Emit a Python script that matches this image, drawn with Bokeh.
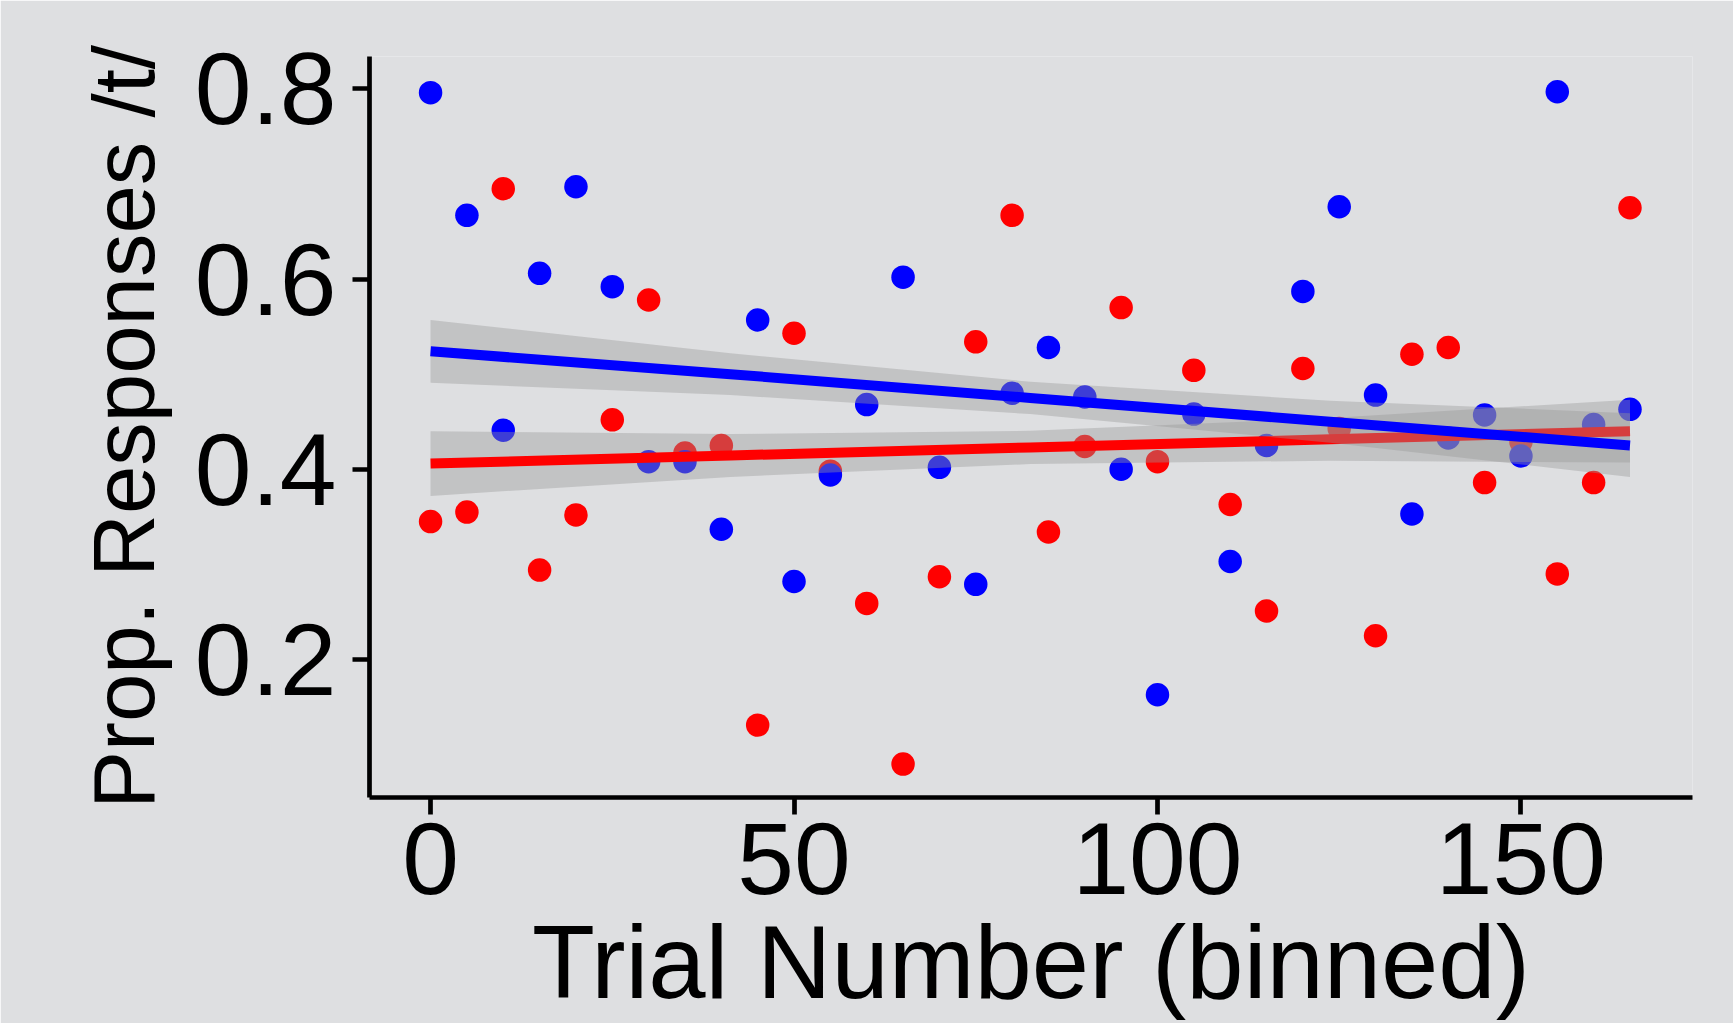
from bokeh.plotting import figure
from bokeh.models import Range1d, FixedTicker
from bokeh.embed import file_html
from bokeh.resources import INLINE

# ---- data ----
trial = [0, 5, 10, 15, 20, 25, 30, 35, 40, 45, 50, 55, 60, 65, 70, 75, 80,
         85, 90, 95, 100, 105, 110, 115, 120, 125, 130, 135, 140, 145, 150,
         155, 160, 165]
prop_blue = [0.796, 0.667, 0.441, 0.606, 0.697, 0.592, 0.408, 0.408, 0.337,
             0.557, 0.282, 0.394, 0.468, 0.602, 0.402, 0.279, 0.480, 0.528,
             0.476, 0.400, 0.163, 0.458, 0.303, 0.425, 0.587, 0.676, 0.478,
             0.353, 0.433, 0.457, 0.414, 0.797, 0.447, 0.463]
prop_red = [0.345, 0.355, 0.695, 0.294, 0.352, 0.452, 0.578, 0.417, 0.425,
            0.131, 0.543, 0.398, 0.259, 0.090, 0.287, 0.534, 0.667, 0.334,
            0.424, 0.570, 0.408, 0.504, 0.363, 0.251, 0.506, 0.443, 0.225,
            0.521, 0.528, 0.386, 0.429, 0.290, 0.386, 0.675]

# fitted lines with confidence bands (read at a few trial positions)
fit_x = [0, 41.25, 82.5, 123.75, 165]
blue_fit = [0.524, 0.500, 0.475, 0.450, 0.425]
blue_lo = [0.491, 0.478, 0.458, 0.428, 0.392]
blue_hi = [0.557, 0.522, 0.492, 0.472, 0.459]
red_fit = [0.406, 0.4145, 0.423, 0.4315, 0.440]
red_lo = [0.372, 0.392, 0.4055, 0.409, 0.407]
red_hi = [0.440, 0.437, 0.4405, 0.454, 0.473]

x_ticks = [0, 50, 100, 150]
x_tick_labels = ["0", "50", "100", "150"]
y_ticks = [0.2, 0.4, 0.6, 0.8]
y_tick_labels = ["0.2", "0.4", "0.6", "0.8"]

x_title = "Trial Number (binned)"
y_title = "Prop. Responses /t/"

BG = "#DEDFE1"
FONT = "Liberation Sans"

p = figure(width=1733, height=1023, output_backend="svg", toolbar_location=None,
           x_range=Range1d(-8.4, 173.6), y_range=Range1d(0.0549, 0.834),
           min_border_left=369, min_border_right=41, min_border_top=56,
           min_border_bottom=226)
p.background_fill_color = BG
p.border_fill_color = BG
p.outline_line_color = None
p.grid.visible = False

for ax in (p.xaxis[0], p.yaxis[0]):
    ax.axis_line_width = 4.7
    ax.axis_line_color = "black"
    ax.major_tick_line_width = 4.7
    ax.major_tick_line_color = "black"
    ax.major_tick_out = 17
    ax.major_tick_in = 0
    ax.minor_tick_line_color = None
    ax.major_label_text_font = FONT
    ax.major_label_text_font_size = "102px"
    ax.major_label_text_color = "black"
    ax.axis_label_text_font = FONT
    ax.axis_label_text_font_style = "normal"
    ax.axis_label_text_color = "black"

p.xaxis.ticker = FixedTicker(ticks=x_ticks)
p.yaxis.ticker = FixedTicker(ticks=y_ticks)
p.xaxis.major_label_overrides = {t: s for t, s in zip(x_ticks, x_tick_labels)}
p.yaxis.major_label_overrides = {t: s for t, s in zip(y_ticks, y_tick_labels)}
p.xaxis.major_label_standoff = 8
p.yaxis.major_label_standoff = 16

p.yaxis.axis_label = y_title
p.yaxis.axis_label_text_font_size = "87px"
p.yaxis.axis_label_standoff = 20

p.xaxis.axis_label = x_title
p.xaxis.axis_label_text_font_size = "103px"
p.xaxis.axis_label_standoff = 8

# points: red first, blue on top
p.scatter(trial, prop_red, size=23.5, fill_color="#FF0000", line_color=None)
p.scatter(trial, prop_blue, size=23.5, fill_color="#0000FF", line_color=None)

# smooth bands and lines (band drawn over the points, as in the reference)
p.varea(x=fit_x, y1=red_lo, y2=red_hi, fill_color="#999999", fill_alpha=0.4)
p.line(fit_x, red_fit, line_color="#FF0000", line_width=10)
p.varea(x=fit_x, y1=blue_lo, y2=blue_hi, fill_color="#999999", fill_alpha=0.4)
p.line(fit_x, blue_fit, line_color="#0000FF", line_width=10)

open("out.html", "w").write(file_html(p, INLINE))
